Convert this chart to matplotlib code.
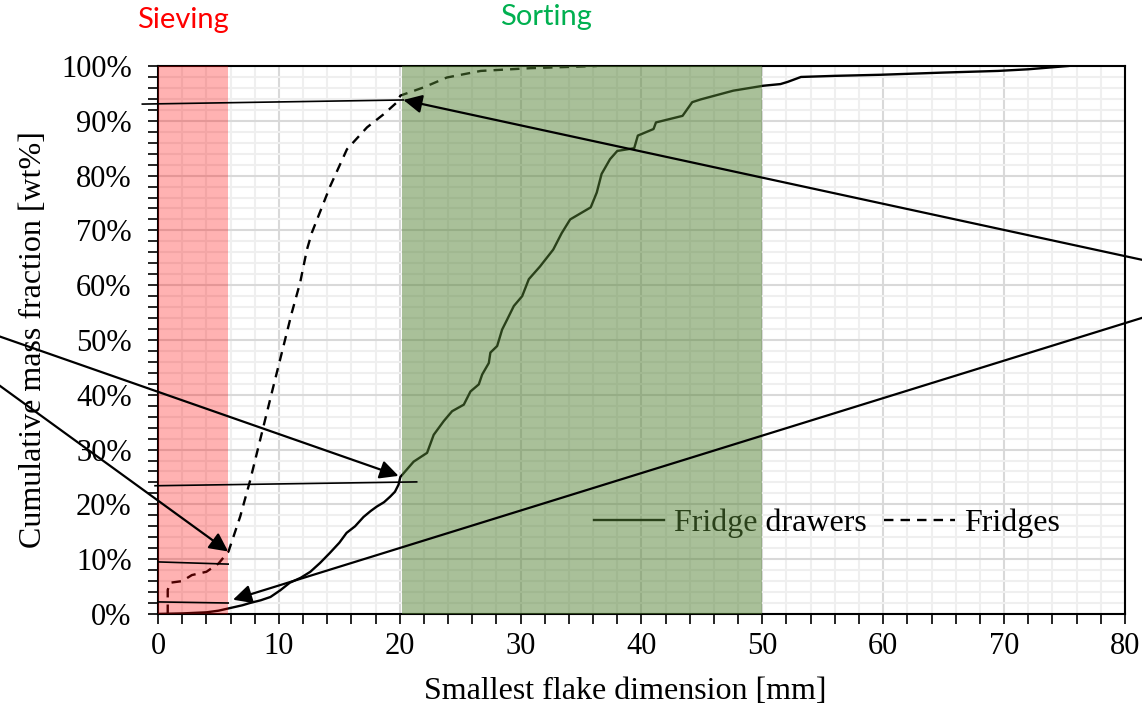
import matplotlib
matplotlib.use("Agg")
import matplotlib.pyplot as plt
from matplotlib.ticker import MultipleLocator, FuncFormatter

# ---------------- data ----------------
drawers_x = [0, 2, 4, 5, 6, 7, 7.6, 8.5, 9.3, 10.1, 10.9, 11.8, 12.6, 13.4, 14.2, 15.0,
             15.6, 16.3, 17.0, 17.6, 18.1, 18.7, 19.2, 19.6, 19.9, 20.05, 21.15, 22.26,
             22.81, 23.64, 24.33, 25.3, 25.85, 26.54, 26.82, 27.37, 27.5, 28.06, 28.47,
             28.88, 29.44, 30.13, 30.68, 31.6, 32.7, 33.4, 34.1, 35.8, 36.3, 36.7, 37.4,
             38.0, 39.4, 39.7, 41.0, 41.2, 43.4, 44.2, 44.9, 47.6, 50.1, 51.5, 52.1, 53.2,
             56.0, 59.8, 65.0, 69.5, 72.0, 75.3]
drawers_y = [0, 0.1, 0.3, 0.6, 1.1, 1.6, 2.0, 2.5, 3.1, 4.3, 5.7, 6.6, 7.7, 9.3, 11.1, 13.0,
             14.8, 16.0, 17.7, 18.8, 19.6, 20.4, 21.4, 22.3, 23.6, 25.0, 27.8, 29.4,
             32.7, 35.2, 37.0, 38.2, 40.6, 41.9, 43.7, 45.8, 47.7, 48.9, 51.9,
             53.7, 56.2, 58.0, 61.1, 63.4, 66.5, 69.5, 72.0, 74.2, 76.9, 80.3, 83.0,
             84.5, 85.0, 87.3, 88.5, 89.7, 90.9, 93.4, 93.9, 95.5, 96.4, 96.7, 97.1, 98.0,
             98.2, 98.4, 98.8, 99.1, 99.4, 100.0]

fridges_x = [0.8, 0.8, 1.0, 2.0, 2.8, 4.0, 5.0, 5.83, 6.8, 7.6, 8.72, 9.55, 10.38, 11.07,
             11.76, 12.32, 12.73, 14.25, 15.63, 17.29, 18.67, 19.78, 20.05, 21.98, 23.9,
             26.7, 30.8, 36.3]
fridges_y = [0.0, 4.4, 5.7, 6.0, 7.1, 7.7, 9.2, 11.4, 17.8, 24.2, 34.2, 41.6, 48.9, 55.0,
             60.5, 66.5, 69.6, 78.1, 84.8, 88.8, 91.2, 93.4, 94.6, 96.1, 97.9,
             99.1, 99.6, 100.0]

series_labels = ["Fridge drawers", "Fridges"]
sieving_range = [0, 5.8]
sorting_range = [20.2, 50.0]

# annotation arrows: (tail x, tail y) -> (tip x, tip y)
arrows = [
    [(84.0, 63.4), (20.3, 93.8)],
    [(-15.0, 52.1), (19.9, 25.2)],
    [(-15.0, 44.7), (5.8, 11.4)],
    [(84.0, 55.8), (6.2, 2.6)],
]
# thin reference lines
ref_lines = [
    [(-1.3, 93.05), (20.3, 93.8)],
    [(-0.25, 23.4), (21.4, 24.1)],
    [(0.0, 9.5), (5.8, 9.1)],
    [(0.0, 2.2), (5.8, 2.0)],
]

# ---------------- figure ----------------
serif = ["Liberation Serif", "DejaVu Serif"]
plt.rcParams["font.family"] = serif
plt.rcParams["font.size"] = 22

fig = plt.figure(figsize=(11.42, 7.15), dpi=100)
ax = fig.add_axes([0.1384, 0.1413, 0.8466, 0.7664])

ax.set_xlim(0, 80)
ax.set_ylim(0, 100)

ax.xaxis.set_major_locator(MultipleLocator(10))
ax.xaxis.set_minor_locator(MultipleLocator(2))
ax.yaxis.set_major_locator(MultipleLocator(10))
ax.yaxis.set_minor_locator(MultipleLocator(2))
ax.yaxis.set_major_formatter(FuncFormatter(lambda v, p: f"{v:.0f}%"))

ax.set_axisbelow(True)
ax.grid(which="minor", color="#efefef", lw=1.5, zorder=0)
ax.grid(which="major", color="#d9d9d9", lw=1.5, zorder=0.1)

ax.tick_params(axis="both", which="both", direction="out", color="black", width=1.2)
ax.tick_params(axis="x", which="major", length=7, pad=6, labelsize=22)
ax.tick_params(axis="x", which="minor", length=7)
ax.tick_params(axis="y", which="major", length=7, pad=12, labelsize=22)
ax.tick_params(axis="y", which="minor", length=7)

for s in ax.spines.values():
    s.set_color("black")
    s.set_linewidth(1.5)

ax.plot(drawers_x, drawers_y, color="black", lw=1.7, zorder=2, label=series_labels[0])
ax.plot(fridges_x, fridges_y, color="black", lw=1.7, dashes=(4, 3), zorder=2,
        label=series_labels[1])

leg = ax.legend(loc="center", bbox_to_anchor=(0.692, 0.166), ncol=2, frameon=False,
                fontsize=23, handlelength=2.2, handletextpad=0.3, columnspacing=0.55,
                borderaxespad=0, borderpad=0)
leg.set_zorder(1.5)

ax.axvspan(sieving_range[0], sieving_range[1], color="#ff0000", alpha=0.3, lw=0, zorder=3)
ax.axvspan(sorting_range[0], sorting_range[1], color="#548235", alpha=0.5, lw=0, zorder=3)

for (x0, y0), (x1, y1) in ref_lines:
    ax.plot([x0, x1], [y0, y1], color="black", lw=1.2, zorder=4, clip_on=False)

for (x0, y0), (x1, y1) in arrows:
    ax.annotate("", xy=(x1, y1), xytext=(x0, y0), xycoords="data", textcoords="data",
                annotation_clip=False, zorder=5,
                arrowprops=dict(arrowstyle="-|>", color="black", lw=1.6,
                                mutation_scale=28, shrinkA=0, shrinkB=0, clip_on=False))

ax.set_xlabel("Smallest flake dimension [mm]", fontsize=23)
ax.set_ylabel("Cumulative mass fraction [wt%]", fontsize=23)
ax.xaxis.set_label_coords((625 - 158) / 967, (614 - 692) / 548)
ax.yaxis.set_label_coords((33 - 158) / 967, 0.5)
ax.xaxis.label.set_va("center")
ax.yaxis.label.set_va("center")

fig.text(183 / 1142, 1 - 20 / 715, "Sieving", color="#ff0000", fontsize=21,
         family=["Lato", "DejaVu Sans"], ha="center", va="center")
fig.text(546 / 1142, 1 - 17 / 715, "Sorting", color="#00b050", fontsize=21,
         family=["Lato", "DejaVu Sans"], ha="center", va="center")

fig.savefig("out.png", dpi=100)
